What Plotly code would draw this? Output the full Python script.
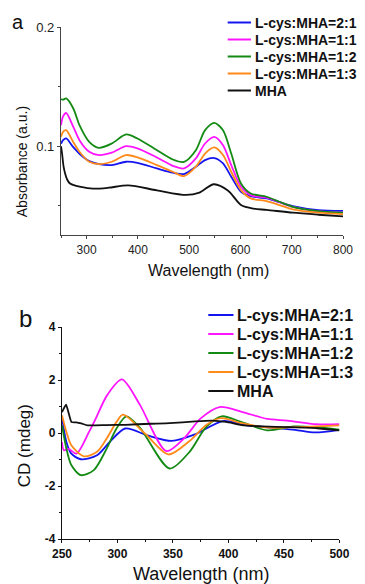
import plotly.graph_objects as go

# ---------------- Panel a: absorbance ----------------
wl_a = [250, 254, 260, 274, 286, 305, 324, 349, 377, 399, 437, 468, 490, 513, 531,
        549, 566, 582, 601, 620, 651, 676, 702, 752, 800]
abs_21 = [0.102, 0.105, 0.1065, 0.0991, 0.0936, 0.0874, 0.0849, 0.0841, 0.0869, 0.0860,
          0.0813, 0.0777, 0.0766, 0.0827, 0.0883, 0.0900, 0.0855, 0.0743, 0.0617, 0.0580,
          0.0561, 0.0530, 0.0497, 0.0463, 0.0457]
abs_11 = [0.1176, 0.125, 0.1278, 0.1162, 0.1050, 0.0953, 0.0925, 0.0945, 0.1000, 0.0981,
          0.0905, 0.0835, 0.0813, 0.0897, 0.1022, 0.1078, 0.1008, 0.0841, 0.0659, 0.0589,
          0.0567, 0.0530, 0.0491, 0.0452, 0.0441]
abs_12 = [0.1395, 0.1390, 0.1400, 0.1316, 0.1176, 0.1036, 0.0986, 0.1022, 0.1098, 0.1064,
          0.0966, 0.0888, 0.0868, 0.0966, 0.1134, 0.1195, 0.1134, 0.0938, 0.0687, 0.0603,
          0.0575, 0.0533, 0.0491, 0.0455, 0.0441]
abs_13 = [0.1078, 0.1120, 0.1134, 0.1033, 0.0953, 0.0869, 0.0849, 0.0869, 0.0925, 0.0905,
          0.0841, 0.0785, 0.0748, 0.0827, 0.0938, 0.0989, 0.0925, 0.0785, 0.0631, 0.0561,
          0.0539, 0.0505, 0.0469, 0.0441, 0.0430]
wl_a_mha = [250, 252, 255, 258, 262, 267, 275, 286, 312, 343, 381, 437, 494, 520, 548,
            576, 601, 626, 651, 702, 752, 800]
abs_mha = [0.100, 0.094, 0.083, 0.077, 0.072, 0.0688, 0.0672, 0.0660, 0.0643, 0.0651,
           0.0671, 0.0629, 0.0590, 0.0610, 0.0680, 0.0626, 0.0506, 0.0475, 0.0465, 0.0441,
           0.0424, 0.0410]

# ---------------- Panel b: CD ----------------
wl_b_21 = [250, 254, 258.4, 267, 281.6, 293, 307, 327, 349, 370, 395, 415, 440, 460, 478, 500]
cd_21 = [0.60, -0.34, -0.78, -0.99, -0.84, -0.34, 0.17, -0.09, -0.30, -0.05, 0.45, 0.30,
         0.20, 0.12, 0.02, 0.12]
wl_b_11 = [250, 251.7, 256, 263, 274.6, 280.4, 290.6, 304, 320, 344, 360, 375, 392, 412,
           435, 453, 479, 500]
cd_11 = [-0.34, -0.65, -0.60, -0.78, 0.06, 0.54, 1.42, 2.02, 1.08, -0.68, -0.20, 0.55, 0.98,
         0.80, 0.53, 0.47, 0.33, 0.33]
wl_b_12 = [250, 254, 258.4, 267, 278.7, 290.3, 299, 308, 320, 347, 365, 380, 394, 412, 435,
           459, 479, 500]
cd_12 = [0.29, -0.59, -1.21, -1.59, -1.40, -0.59, 0.16, 0.63, 0.21, -1.34, -0.71, 0.23, 0.63,
         0.41, 0.10, 0.25, 0.22, 0.13]
wl_b_13 = [250, 254, 258.4, 270, 281.6, 290.3, 299, 305, 325, 346, 365, 380, 393, 412, 436,
           460, 480, 500]
cd_13 = [0.67, 0.04, -0.46, -0.88, -0.71, -0.21, 0.41, 0.69, -0.03, -0.81, -0.30, 0.30, 0.56,
         0.37, 0.20, 0.22, 0.25, 0.29]
wl_b_mha = [250, 253.7, 258.6, 263, 267.4, 273, 290, 307, 330, 347, 370, 385, 398, 412, 430,
            456, 480, 500]
cd_mha = [0.79, 1.07, 0.41, 0.40, 0.36, 0.29, 0.30, 0.31, 0.35, 0.37, 0.44, 0.47, 0.42, 0.30,
          0.25, 0.22, 0.18, 0.10]

names = ["L-cys:MHA=2:1", "L-cys:MHA=1:1", "L-cys:MHA=1:2", "L-cys:MHA=1:3", "MHA"]
colors = ["#1414F0", "#FF14FF", "#138A13", "#FF8A1A", "#111111"]

xa_ticks = [300, 400, 500, 600, 700, 800]
ya_ticks = [0.1, 0.2]
ya_ticktext = ["0.1", "0.2"]
xb_ticks = [250, 300, 350, 400, 450, 500]
yb_ticks = [-4, -2, 0, 2, 4]
yb_ticktext = ["-4", "-2", "0", "2", "4"]

FONT = "Liberation Sans, Arial, sans-serif"

L, R, T, B = 61, 13, 27, 45
W, H = 365, 584
pw, ph = W - L - R, H - T - B


def px(x):
    return (x - L) / pw


def py(y):
    return (H - B - y) / ph


fig = go.Figure()

a_x = [wl_a, wl_a, wl_a, wl_a, wl_a_mha]
a_y = [abs_21, abs_11, abs_12, abs_13, abs_mha]
for i in range(5):
    fig.add_trace(go.Scatter(
        x=a_x[i], y=a_y[i], mode="lines", name=names[i], showlegend=False,
        line=dict(color=colors[i], width=1.8, shape="spline", smoothing=0.8),
        xaxis="x", yaxis="y"))

b_x = [wl_b_21, wl_b_11, wl_b_12, wl_b_13, wl_b_mha]
b_y = [cd_21, cd_11, cd_12, cd_13, cd_mha]
for i in range(5):
    fig.add_trace(go.Scatter(
        x=b_x[i], y=b_y[i], mode="lines", name=names[i], showlegend=False,
        line=dict(color=colors[i], width=1.8, shape="spline",
                  smoothing=0.8 if i < 4 else 0.4),
        xaxis="x2", yaxis="y2"))

axis_common = dict(showline=True, ticks="outside", showgrid=False, zeroline=False,
                   mirror=False)

fig.update_layout(
    width=W, height=H, margin=dict(l=L, r=R, t=T, b=B),
    paper_bgcolor="white", plot_bgcolor="white", showlegend=False,
    font=dict(family=FONT, color="#111"),
    xaxis=dict(domain=[0, 1], range=[250, 800], anchor="y", tickvals=xa_ticks,
               linecolor="#444", linewidth=1.2, tickcolor="#444", ticklen=3,
               tickfont=dict(size=12, color="#222"),
               minor=dict(ticks="outside", ticklen=2, dtick=50, tick0=250, tickcolor="#444"),
               **axis_common),
    yaxis=dict(domain=[py(235), 1], range=[0.0254, 0.2], anchor="x", tickvals=ya_ticks,
               ticktext=ya_ticktext,
               linecolor="#444", linewidth=1.2, tickcolor="#444", ticklen=3,
               tickfont=dict(size=13, color="#222"),
               minor=dict(ticks="outside", ticklen=2, dtick=0.05, tick0=0, tickcolor="#444"),
               **axis_common),
    xaxis2=dict(domain=[px(62), px(348.3)], range=[250, 500], anchor="y2", tickvals=xb_ticks,
                linecolor="#111", linewidth=1.2, tickcolor="#111", ticklen=3,
                tickfont=dict(size=12, color="#111", weight="bold"),
                minor=dict(ticks="outside", ticklen=2, dtick=25, tick0=250, tickcolor="#111"),
                **axis_common),
    yaxis2=dict(domain=[0, py(327)], range=[-4, 4], anchor="x2", tickvals=yb_ticks,
                ticktext=yb_ticktext,
                linecolor="#111", linewidth=1.2, tickcolor="#111", ticklen=3,
                tickfont=dict(size=12, color="#111", weight="bold"),
                minor=dict(ticks="outside", ticklen=2, dtick=1, tick0=0, tickcolor="#111"),
                **axis_common),
)

# manual legends (key line + label) in paper coordinates
leg_a_rows = [22.5, 39.5, 56.5, 73.5, 90.5]
leg_b_rows = [315, 334, 353, 372, 391]
for i in range(5):
    fig.add_shape(type="line", xref="paper", yref="paper",
                  x0=px(233), x1=px(257), y0=py(leg_a_rows[i]), y1=py(leg_a_rows[i]),
                  line=dict(color=colors[i], width=2))
    fig.add_annotation(xref="paper", yref="paper", showarrow=False, text=names[i],
                       x=px(259), y=py(leg_a_rows[i]), xanchor="left", yanchor="middle",
                       font=dict(size=14, weight="bold", color="#111"))
    fig.add_shape(type="line", xref="paper", yref="paper",
                  x0=px(213), x1=px(239), y0=py(leg_b_rows[i]), y1=py(leg_b_rows[i]),
                  line=dict(color=colors[i], width=2))
    fig.add_annotation(xref="paper", yref="paper", showarrow=False, text=names[i],
                       x=px(241), y=py(leg_b_rows[i]), xanchor="left", yanchor="middle",
                       font=dict(size=16, weight="bold", color="#111"))

ann = [
    dict(text="a", x=px(17), y=py(22), font=dict(size=20, color="#111")),
    dict(text="b", x=px(24), y=py(318), font=dict(size=24, color="#111")),
    dict(text="Absorbance (a.u.)", x=px(21), y=py(162), textangle=-90,
         font=dict(size=14, color="#111")),
    dict(text="Wavelength (nm)", x=px(213), y=py(270), font=dict(size=16, color="#111")),
    dict(text="CD (mdeg)", x=px(23), y=py(446), textangle=-90,
         font=dict(size=17, color="#111")),
    dict(text="Wavelength (nm)", x=px(205), y=py(574), font=dict(size=18, color="#111")),
]
for a in ann:
    fig.add_annotation(xref="paper", yref="paper", showarrow=False,
                       xanchor="center", yanchor="middle", **a)

fig.write_html("out.html", config={"displayModeBar": False},
               post_script="document.body.style.margin='0';document.body.style.padding='0';")
